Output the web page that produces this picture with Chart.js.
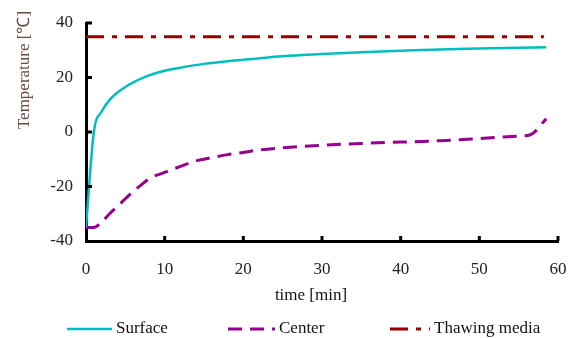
<!DOCTYPE html>
<html lang="en">
<head>
    <meta charset="UTF-8">
    <title>Temperature vs time</title>
    <script src="https://cdn.jsdelivr.net/npm/chart.js@4.4.1/dist/chart.umd.min.js"></script>
    <style>
        html, body { margin: 0; padding: 0; background: #fff; }
        #wrap { width: 573px; height: 338px; position: relative; }
    </style>
</head>
<body>
    <div id="wrap"><canvas id="tempChart"></canvas></div>

    <script>
        // time [min] and temperature [°C]
        const surfaceTime = [0, 1, 2, 3, 4, 5, 6, 8, 10, 12, 15, 18, 20, 25, 30, 35, 40, 45, 50, 55, 58.5];
        const surfaceTemp = [-35, 0, 7.5, 11.8, 14.5, 16.5, 18.2, 20.8, 22.5, 23.6, 25, 26, 26.5, 27.8, 28.6, 29.3, 29.8, 30.3, 30.6, 30.9, 31.1];

        const centerTime = [0, 1, 2, 3, 4, 5, 6, 7, 8, 10, 12, 14, 16, 18, 20, 22, 25, 30, 35, 40, 45, 50, 55, 56.5, 58.5];
        const centerTemp = [-35, -35, -33, -30, -27.3, -24.5, -21.8, -19.5, -17.2, -14.8, -12.6, -10.6, -9.4, -8.3, -7.5, -6.6, -5.8, -4.9, -4.2, -3.7, -3.2, -2.4, -1.5, -1, 4.8];

        const mediaTime = [0, 58.2];
        const mediaTemp = [35, 35];

        const xTicks = [0, 10, 20, 30, 40, 50, 60];
        const yTicks = [-40, -20, 0, 20, 40];

        const serif = '"Liberation Serif", "Times New Roman", serif';

        const toPoints = (xs, ys) => xs.map((x, i) => ({ x: x, y: ys[i] }));

        // inward tick marks, axis titles and the line-sample legend
        const extras = {
            id: 'extras',
            afterDraw(chart) {
                const ctx = chart.ctx;
                const xs = chart.scales.x, ys = chart.scales.y;
                const area = chart.chartArea;
                ctx.save();
                ctx.strokeStyle = '#000';
                ctx.lineWidth = 3;
                ctx.beginPath();
                xTicks.forEach(v => {
                    const px = xs.getPixelForValue(v);
                    if (v === 0) return;
                    ctx.moveTo(px, area.bottom);
                    ctx.lineTo(px, area.bottom - 5);
                });
                yTicks.forEach(v => {
                    const py = ys.getPixelForValue(v);
                    if (v === -40) return;
                    ctx.moveTo(area.left, py);
                    ctx.lineTo(area.left + 6, py);
                });
                ctx.stroke();

                ctx.font = '17px ' + serif;
                ctx.textBaseline = 'middle';
                ctx.textAlign = 'center';
                ctx.fillStyle = '#111';
                ctx.fillText('time [min]', 311, 296);

                ctx.save();
                ctx.translate(25, 70);
                ctx.rotate(-Math.PI / 2);
                ctx.fillStyle = '#6a4a3c';
                ctx.fillText('Temperature [\u2103]', 0, 0);
                ctx.restore();

                // legend
                const legendX = [[67, 112], [228, 275], [390, 430]];
                const legendY = 329;
                ctx.textAlign = 'left';
                chart.data.datasets.forEach((ds, i) => {
                    const [a, b] = legendX[i];
                    ctx.beginPath();
                    ctx.setLineDash(ds.borderDash || []);
                    ctx.strokeStyle = ds.borderColor;
                    ctx.lineWidth = ds.borderWidth;
                    ctx.moveTo(a, legendY);
                    ctx.lineTo(b, legendY);
                    ctx.stroke();
                    ctx.setLineDash([]);
                    ctx.fillStyle = '#111';
                    ctx.fillText(ds.label, b + 4, legendY);
                });
                ctx.restore();
            }
        };

        new Chart(document.getElementById('tempChart'), {
            type: 'scatter',
            data: {
                datasets: [
                    {
                        label: 'Surface',
                        data: toPoints(surfaceTime, surfaceTemp),
                        showLine: true,
                        borderColor: 'rgb(0, 190, 190)',
                        borderWidth: 2.5,
                        pointRadius: 0,
                        cubicInterpolationMode: 'monotone'
                    },
                    {
                        label: 'Center',
                        data: toPoints(centerTime, centerTemp),
                        showLine: true,
                        borderColor: 'rgb(150, 0, 140)',
                        borderWidth: 3,
                        borderDash: [14, 8],
                        pointRadius: 0,
                        cubicInterpolationMode: 'monotone'
                    },
                    {
                        label: 'Thawing media',
                        data: toPoints(mediaTime, mediaTemp),
                        showLine: true,
                        borderColor: 'rgb(150, 0, 0)',
                        borderWidth: 3,
                        borderDash: [18, 8, 5, 8],
                        pointRadius: 0
                    }
                ]
            },
            options: {
                responsive: true,
                maintainAspectRatio: false,
                animation: false,
                layout: { padding: { left: 0, right: 15, top: 23, bottom: 0 } },
                plugins: {
                    legend: { display: false },
                    tooltip: { enabled: false }
                },
                scales: {
                    x: {
                        type: 'linear',
                        min: 0,
                        max: 60,
                        afterBuildTicks: s => { s.ticks = xTicks.map(v => ({ value: v })); },
                        afterFit: s => { s.height = 97; s.paddingLeft = 0; s.paddingRight = 0; },
                        grid: { display: false, drawTicks: false },
                        border: { display: true, color: '#000', width: 3 },
                        ticks: {
                            padding: 18,
                            color: '#222',
                            maxRotation: 0,
                            font: { family: serif, size: 17 }
                        }
                    },
                    y: {
                        type: 'linear',
                        min: -40,
                        max: 40,
                        afterBuildTicks: s => { s.ticks = yTicks.map(v => ({ value: v })); },
                        afterFit: s => { s.width = 86; s.paddingTop = 0; s.paddingBottom = 0; },
                        grid: { display: false, drawTicks: false },
                        border: { display: true, color: '#000', width: 3 },
                        ticks: {
                            padding: 13,
                            color: '#222',
                            font: { family: serif, size: 17 }
                        }
                    }
                }
            },
            plugins: [extras]
        });
    </script>
</body>
</html>
